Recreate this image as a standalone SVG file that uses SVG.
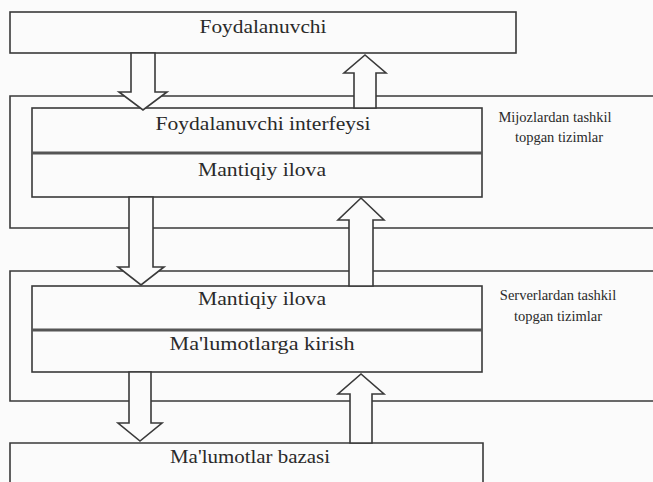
<svg xmlns="http://www.w3.org/2000/svg" width="653" height="482" viewBox="0 0 653 482">
  <style>
    .frame { fill: none; stroke: #3a3a3a; stroke-width: 1.6; }
    .box { fill: #fbfbfb; stroke: #3a3a3a; stroke-width: 1.6; }
    .divider { stroke: #555; stroke-width: 3; }
    .arrow { fill: #fbfbfb; stroke: #3a3a3a; stroke-width: 1.6; stroke-linejoin: miter; }
    .label { font-family: "Liberation Serif", "Times New Roman", serif; font-size: 19px; fill: #2a2a2a; text-anchor: middle; }
    .side { font-family: "Liberation Serif", "Times New Roman", serif; font-size: 14.5px; fill: #2a2a2a; text-anchor: middle; }
  </style>
  <rect width="653" height="482" fill="#fbfbfb"/>

  <!-- client tier frame -->
  <g id="client-frame">
    <path class="frame" d="M653,96 L10,96 L10,228 L653,228"/>
  </g>
  <!-- server tier frame -->
  <g id="server-frame">
    <path class="frame" d="M653,271 L10,271 L10,401 L653,401"/>
  </g>

  <g id="user">
    <rect class="box" x="10" y="12" width="506" height="41"/>
    <text class="label" x="263" y="33" textLength="127" lengthAdjust="spacingAndGlyphs">Foydalanuvchi</text>
  </g>

  <g id="client-stack">
    <rect class="box" x="32" y="108" width="450" height="89"/>
    <line class="divider" x1="32" y1="153" x2="482" y2="153"/>
    <text class="label" x="263" y="130" textLength="215" lengthAdjust="spacingAndGlyphs">Foydalanuvchi interfeysi</text>
    <text class="label" x="262" y="176" textLength="128" lengthAdjust="spacingAndGlyphs">Mantiqiy ilova</text>
  </g>

  <g id="client-label">
    <text class="side" x="555" y="122">Mijozlardan tashkil</text>
    <text class="side" x="559" y="142">topgan tizimlar</text>
  </g>

  <g id="server-stack">
    <rect class="box" x="32" y="286" width="450" height="86"/>
    <line class="divider" x1="32" y1="330" x2="482" y2="330"/>
    <text class="label" x="262" y="305" textLength="128" lengthAdjust="spacingAndGlyphs">Mantiqiy ilova</text>
    <text class="label" x="262" y="350" textLength="185" lengthAdjust="spacingAndGlyphs">Ma'lumotlarga kirish</text>
  </g>

  <g id="server-label">
    <text class="side" x="558" y="300">Serverlardan tashkil</text>
    <text class="side" x="558" y="321">topgan tizimlar</text>
  </g>

  <g id="database">
    <path class="box" d="M10,483 L10,443 L483,443 L483,483"/>
    <text class="label" x="250" y="463" textLength="160" lengthAdjust="spacingAndGlyphs">Ma'lumotlar bazasi</text>
  </g>

  <!-- block arrows between tiers -->
  <g id="connectors">
    <polygon class="arrow" points="131,53 155,53 155,92 167,92 143,110 119,92 131,92"/>
    <polygon class="arrow" points="354,108 354,73 344,73 365,55 386,73 376,73 376,108"/>
    <polygon class="arrow" points="129,197 153,197 153,267 164,267 141,285 118,267 129,267"/>
    <polygon class="arrow" points="349,286 349,220 338,220 361,198 384,220 373,220 373,286"/>
    <polygon class="arrow" points="129,372 151,372 151,423 162,423 140,441 118,423 129,423"/>
    <polygon class="arrow" points="350,443 350,394 338,394 361,374 384,394 372,394 372,443"/>
  </g>
</svg>
